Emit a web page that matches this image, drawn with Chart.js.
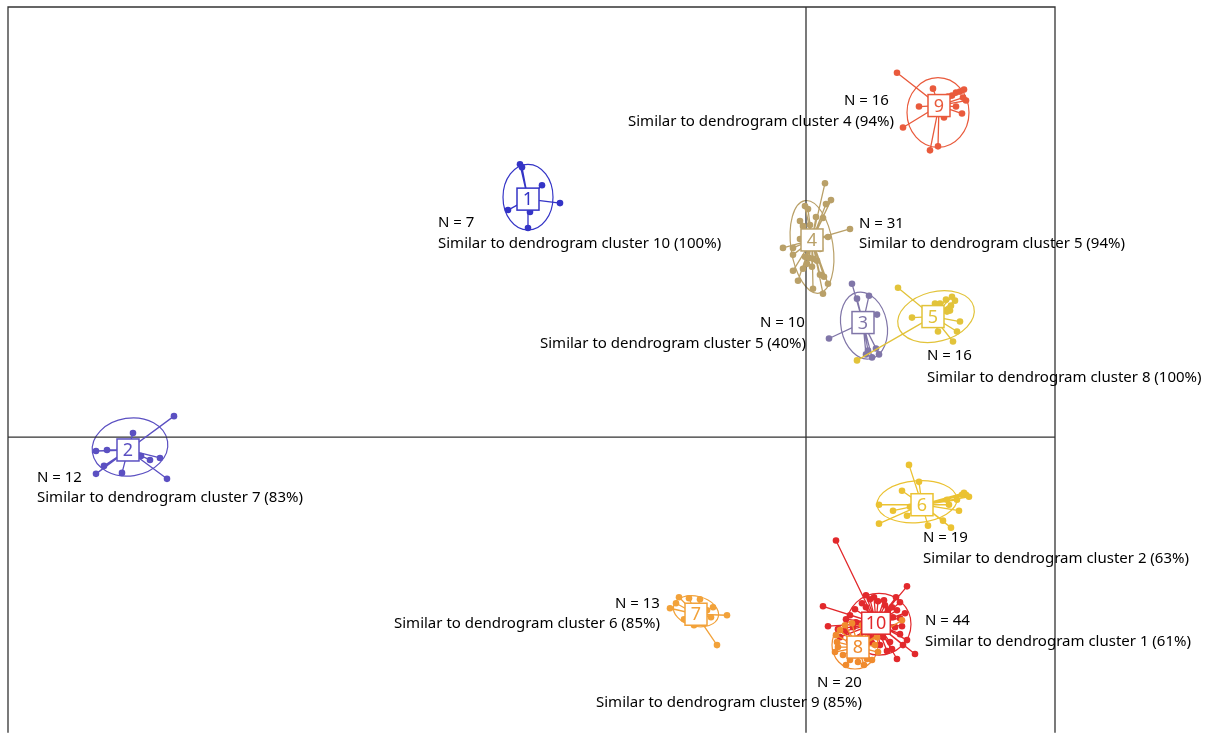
<!DOCTYPE html>
<html>
<head>
<meta charset="utf-8">
<script src="https://cdn.jsdelivr.net/npm/chart.js@4/dist/chart.umd.min.js"></script>
<style>
  html, body { margin: 0; padding: 0; background: #fff; overflow: hidden; }
  #wrap { width: 1210px; height: 734px; position: relative; }
</style>
</head>
<body>
<div id="wrap"><canvas id="c"></canvas></div>
<script>
// Cluster ids, sizes and best-matching dendrogram clusters
const clusterIds    = [1, 2, 3, 4, 5, 6, 7, 8, 9, 10];
const clusterSizes  = [7, 12, 10, 31, 16, 19, 13, 20, 16, 44];
const dendroCluster = [10, 7, 5, 5, 8, 2, 6, 9, 4, 1];
const dendroPercent = [100, 83, 40, 94, 100, 63, 85, 85, 94, 61];
const clusterColors = ['#3434C6', '#5B50C2', '#8076A8', '#B9A068', '#E2C33A',
                       '#EBC232', '#F2A23A', '#F08B2E', '#E95A3C', '#E2292C'];

// Cluster centres on the two ordination axes
const centroids = [[-278, 239], [-678, -13], [57, 115], [6, 198], [127, 121],
                   [116, -68], [-110, -178], [52, -211], [133, 333], [70, -187]];

// Member positions of each cluster
const members1 = [[-286, 274], [-264, 253], [-246, 235], [-298, 228], [-278, 210], [-284, 271], [-276, 226]];
const members2 = [[-632, 21], [-673, 4], [-710, -14], [-699, -13], [-646, -21], [-639, -42],
                  [-684, -36], [-710, -37], [-686, -12], [-665, -19], [-656, -23], [-702, -29]];
const members3 = [[46, 154], [63, 142], [71, 123], [23, 99], [66, 80], [73, 83], [51, 139], [62, 87], [70, 89], [60, 83]];
const members4 = [[19, 255], [25, 238], [20, 234], [-1, 232], [2, 229], [10, 221], [17, 220], [4, 213],
                  [-3, 212], [-6, 217], [44, 209], [22, 201], [-23, 190], [-13, 190], [-13, 183], [-1, 181],
                  [3, 180], [7, 179], [11, 177], [-13, 167], [-3, 169], [1, 174], [14, 163], [18, 161],
                  [22, 154], [7, 149], [17, 144], [-8, 157], [6, 171], [-6, 199], [14, 189]];
const members5 = [[92, 150], [106, 120], [129, 134], [134, 134], [140, 138], [146, 141], [149, 137], [144, 127],
                  [141, 126], [154, 116], [151, 106], [147, 96], [132, 106], [51, 77], [145, 132], [130, 127]];
const members6 = [[103, -28], [113, -45], [96, -54], [158, -56], [160, -58], [156, -58], [151, -63], [73, -68],
                  [104, -70], [87, -74], [153, -74], [141, -63], [143, -68], [73, -87], [101, -79], [122, -89],
                  [137, -84], [145, -91], [163, -60]];
const members7 = [[-136, -172], [-79, -179], [-89, -209], [-127, -161], [-117, -162], [-99, -174], [-95, -181],
                  [-106, -163], [-122, -183], [-112, -189], [-103, -187], [-130, -167], [-93, -171]];
const members8 = [[30, -199], [31, -206], [32, -211], [37, -219], [44, -224], [52, -226], [61, -223], [66, -224],
                  [71, -201], [69, -209], [96, -184], [34, -194], [39, -189], [46, -187], [56, -189], [64, -193],
                  [29, -216], [58, -229], [40, -229], [72, -216]];
const members9 = [[91, 366], [127, 350], [113, 332], [97, 311], [124, 288], [132, 292], [146, 343], [150, 346],
                  [154, 347], [158, 349], [160, 338], [157, 341], [150, 332], [156, 325], [142, 342], [138, 321]];
const members10 = [[30, -104], [101, -150], [17, -170], [22, -190], [64, -163], [60, -159], [82, -174], [86, -171],
                   [91, -174], [94, -182], [96, -190], [94, -198], [101, -204], [109, -218], [91, -223], [81, -215],
                   [77, -201], [84, -206], [89, -191], [87, -181], [79, -169], [72, -165], [68, -161], [56, -167],
                   [49, -173], [44, -179], [32, -193], [39, -195], [47, -191], [40, -183], [34, -201], [43, -205],
                   [54, -201], [64, -201], [74, -209], [86, -213], [97, -209], [99, -177], [94, -166], [90, -161],
                   [78, -164], [60, -171], [50, -186], [66, -207]];
const membersByCluster = [members1, members2, members3, members4, members5,
                          members6, members7, members8, members9, members10];

// Dispersion ellipses: centre x, centre y, semi-axis x, semi-axis y, tilt (rad)
const ellipses = [[-278, 241, 25, 33, 0], [-676, -10, 38, 29, -0.15], [58, 112, 23, 34, -0.2],
                  [6, 191, 21, 47, -0.15], [130, 121, 39, 25, -0.25], [111, -65, 40, 21, -0.08],
                  [-110, -175, 23, 15, 0.25], [49, -209, 23, 24, 0], [132, 326, 31, 35, 0], [73, -188, 32, 31, 0]];

// Axis extents
const xRange = [-798, 249];
const yRange = [-295, 432];

// Annotation anchors (left edge, vertical middle) for the "N =" line and the similarity line
const labelAnchors = [
  [[-368, 215], [-368, 194]],
  [[-769, -41], [-769, -61]],
  [[-46, 115], [-266, 94]],
  [[53, 214], [53, 194]],
  [[121, 82], [121, 60]],
  [[117, -101], [117, -122]],
  [[-191, -167], [-412, -188]],
  [[11, -247], [-210, -267]],
  [[38, 338], [-178, 317]],
  [[119, -185], [119, -206]]
];

// Bottom-to-top stacking of clusters
const stacking = [1, 2, 3, 4, 5, 6, 7, 9, 10, 8];

const TEXT_FONT = '15px "Noto Sans", sans-serif';
const NUM_FONT = '18px "Noto Sans", sans-serif';

// Star datasets: centre -> member -> centre -> member ...
const datasets = clusterIds.map((id, i) => {
  const c = centroids[i];
  const pts = [];
  membersByCluster[i].forEach(m => {
    pts.push({ x: c[0], y: c[1] });
    pts.push({ x: m[0], y: m[1] });
  });
  return {
    label: 'Cluster ' + id,
    data: pts,
    showLine: true,
    borderColor: clusterColors[i],
    borderWidth: 1.3,
    backgroundColor: clusterColors[i],
    pointBackgroundColor: clusterColors[i],
    pointBorderWidth: 0,
    pointRadius: ctx => (ctx.dataIndex % 2 ? 3.3 : 0),
    pointHoverRadius: ctx => (ctx.dataIndex % 2 ? 3.3 : 0),
    tension: 0,
    order: stacking.length - stacking.indexOf(id)
  };
});

const clusterDecor = {
  id: 'clusterDecor',
  beforeDatasetsDraw(chart) {
    const { ctx, scales: { x, y } } = chart;
    ctx.save();
    // ellipses
    ellipses.forEach((e, i) => {
      const cx = x.getPixelForValue(e[0]);
      const cy = y.getPixelForValue(e[1]);
      const rx = Math.abs(x.getPixelForValue(e[0] + e[2]) - cx);
      const ry = Math.abs(y.getPixelForValue(e[1] + e[3]) - cy);
      ctx.beginPath();
      ctx.ellipse(cx, cy, rx, ry, e[4], 0, Math.PI * 2);
      ctx.strokeStyle = clusterColors[i];
      ctx.lineWidth = 1.2;
      ctx.stroke();
    });
    // frame and zero axes
    const l = x.getPixelForValue(xRange[0]);
    const r = x.getPixelForValue(xRange[1]);
    const t = y.getPixelForValue(yRange[1]);
    const b = y.getPixelForValue(yRange[0]);
    const x0 = x.getPixelForValue(0);
    const y0 = y.getPixelForValue(0);
    ctx.strokeStyle = '#333';
    ctx.lineWidth = 1.3;
    ctx.beginPath();
    ctx.moveTo(l, b + 2); ctx.lineTo(l, t); ctx.lineTo(r, t); ctx.lineTo(r, b + 2);
    ctx.moveTo(x0, t); ctx.lineTo(x0, b + 2);
    ctx.moveTo(l, y0); ctx.lineTo(r, y0);
    ctx.stroke();
    ctx.restore();
  },
  afterDatasetsDraw(chart) {
    const { ctx, scales: { x, y } } = chart;
    ctx.save();
    // centre boxes with cluster numbers
    stacking.forEach(id => {
      const i = clusterIds.indexOf(id);
      const cx = x.getPixelForValue(centroids[i][0]);
      const cy = y.getPixelForValue(centroids[i][1]);
      ctx.font = NUM_FONT;
      const tw = ctx.measureText(String(id)).width;
      const w = Math.max(22, tw + 8);
      const h = 22;
      ctx.fillStyle = '#fff';
      ctx.fillRect(cx - w / 2, cy - h / 2, w, h);
      ctx.strokeStyle = clusterColors[i];
      ctx.lineWidth = 1.5;
      ctx.strokeRect(cx - w / 2, cy - h / 2, w, h);
      ctx.fillStyle = clusterColors[i];
      ctx.textAlign = 'center';
      ctx.textBaseline = 'middle';
      ctx.fillText(String(id), cx, cy + 1);
    });
    // annotations
    ctx.font = TEXT_FONT;
    ctx.fillStyle = '#000';
    ctx.textAlign = 'left';
    ctx.textBaseline = 'middle';
    clusterIds.forEach((id, i) => {
      const [nA, sA] = labelAnchors[i];
      ctx.fillText('N = ' + clusterSizes[i], x.getPixelForValue(nA[0]), y.getPixelForValue(nA[1]));
      ctx.fillText('Similar to dendrogram cluster ' + dendroCluster[i] + ' (' + dendroPercent[i] + '%)',
                   x.getPixelForValue(sA[0]), y.getPixelForValue(sA[1]));
    });
    ctx.restore();
  }
};

new Chart(document.getElementById('c'), {
  type: 'scatter',
  data: { datasets },
  options: {
    responsive: true,
    maintainAspectRatio: false,
    animation: false,
    layout: { padding: { left: 8, top: 7, right: 155, bottom: 0 } },
    plugins: { legend: { display: false }, tooltip: { enabled: false } },
    events: [],
    scales: {
      x: { type: 'linear', min: xRange[0], max: xRange[1], display: false },
      y: { type: 'linear', min: yRange[0], max: yRange[1], display: false }
    }
  },
  plugins: [clusterDecor]
});
</script>
</body>
</html>
